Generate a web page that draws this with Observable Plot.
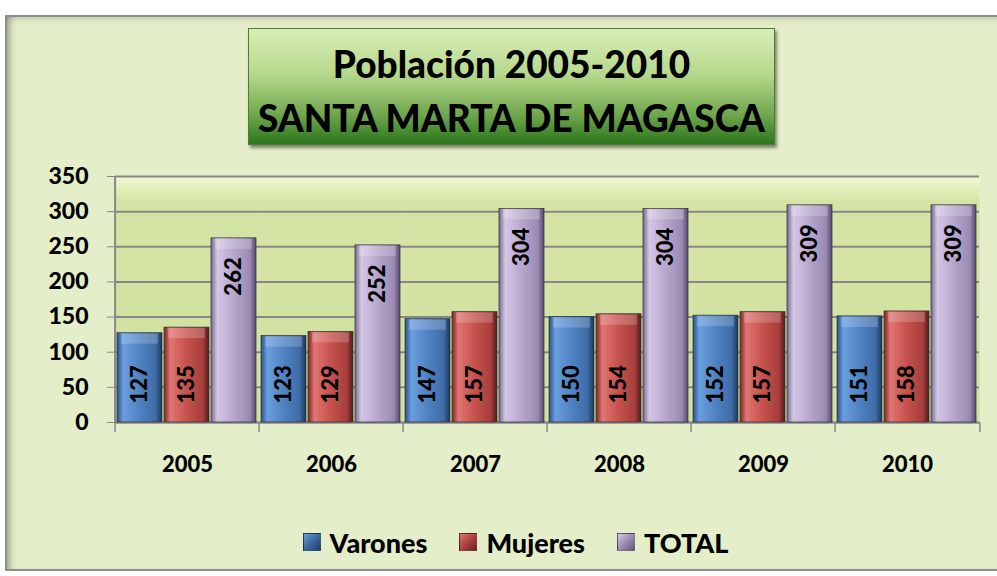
<!DOCTYPE html>
<html><head><meta charset="utf-8">
<script src="https://cdn.jsdelivr.net/npm/d3@7"></script>
<script src="https://cdn.jsdelivr.net/npm/@observablehq/plot@0.6"></script>
<style>
body{margin:0;background:#fff;font-family:Lato,"Open Sans",sans-serif;}
#wrap{position:relative;width:997px;height:576px;overflow:hidden;background:#fff;}
#panel{position:absolute;left:5px;top:15px;width:1000px;height:556px;background:#e4efc9;border:2px solid #8e8e8e;box-sizing:border-box;box-shadow:inset 7px 0 6px -4px rgba(0,0,0,0.3), inset 0 7px 6px -4px rgba(0,0,0,0.12);}
#chart{position:absolute;left:0;top:0;}
#title{position:absolute;left:248px;top:28px;width:527px;height:117px;background:linear-gradient(#d9eeb8,#b5d88b 40%,#6fa54c 75%,#2c761c);border:1px solid #4d7d36;box-shadow:2px 3px 3px rgba(0,0,0,0.45);box-sizing:border-box;text-align:center;font-weight:900;font-size:37px;color:#000;padding-top:8px;}
#title div{line-height:54px;}
#legend{position:absolute;top:527px;left:17px;width:997px;height:30px;display:flex;justify-content:center;align-items:center;font-weight:900;font-size:27px;color:#000;}
.item{display:flex;align-items:center;margin:0 16px;}
.sw{width:18px;height:18px;margin-right:9px;box-sizing:border-box;border:1px solid rgba(0,0,0,0.35);}
</style></head>
<body>
<div id="wrap">
  <div id="panel"></div>
  <div id="chart"></div>
  <div id="title"><div>Población 2005-2010</div><div>SANTA MARTA DE MAGASCA</div></div>
  <div id="legend"></div>
</div>
<script>
const years = ["2005","2006","2007","2008","2009","2010"];
const series = ["Varones","Mujeres","TOTAL"];
const varones = [127,123,147,150,152,151];
const mujeres = [135,129,157,154,157,158];
const total = [262,252,304,304,309,309];
const yTicks = [0,50,100,150,200,250,300,350];

const W = 997, H = 576, ML = 112, MR = 16, MT = 176, MB = 154;
const fxBand = (W - ML - MR) / years.length;
const valuesBySeries = {Varones: varones, Mujeres: mujeres, TOTAL: total};
const data = years.flatMap((yr, i) => series.map(s => ({year: yr, series: s, value: valuesBySeries[s][i]})));

const gradId = {Varones: "gV", Mujeres: "gM", TOTAL: "gT"};
const gradStops = {
  gV: ["#2a5185", "#6a9ede", "#4f83c2", "#3f6ca6", "#1c365a"],
  gM: ["#7e2725", "#e07571", "#c6524e", "#a53f3c", "#561b1a"],
  gT: ["#76688f", "#d4c8e6", "#b7a7cc", "#9b8bb3", "#564b6b"]
};
const legendBg = {
  Varones: "linear-gradient(135deg,#6a9ede,#3c68a0 50%,#21406a)",
  Mujeres: "linear-gradient(135deg,#e07571,#b0423f 50%,#6a2220)",
  TOTAL: "linear-gradient(135deg,#d4c8e6,#9d8db6 50%,#625676)"
};

const labelStyle = {fontSize: 22, fontWeight: 900, fill: "#000", rotate: -90};

const chart = Plot.plot({
  width: W, height: H,
  marginLeft: ML, marginRight: MR, marginTop: MT, marginBottom: MB,
  style: {background: "transparent", fontFamily: "Lato, 'Open Sans', sans-serif", color: "#000", overflow: "visible"},
  fx: {domain: years, padding: 0, label: null},
  x: {domain: series, paddingInner: 0.04, paddingOuter: 0.05, axis: null},
  y: {domain: [0, 350], label: null},
  marks: [
    Plot.frame({fill: "url(#gWall)", stroke: null}),
    Plot.gridY(yTicks, {stroke: "#878787", strokeOpacity: 1, strokeWidth: 2}),
    Plot.ruleY([0], {stroke: "#878787", strokeWidth: 2}),
    Plot.ruleX(years.slice(0, 1), {fx: d => d, x: null, dx: -fxBand / 2, stroke: "#878787", strokeWidth: 2}),
    Plot.axisY(yTicks, {tickSize: 8, tickPadding: 19, fontSize: 23, fontWeight: 900, stroke: "#878787", fill: "#000", label: null}),
    Plot.axisFx({anchor: "bottom", tickSize: 0, tickPadding: 34, fontSize: 22, fontWeight: 900, fill: "#000", label: null}),
    Plot.axisFx({anchor: "bottom", tickSize: 10, tickFormat: () => "", dx: -fxBand / 2, stroke: "#878787", strokeWidth: 1.5, label: null}),
    Plot.axisFx({anchor: "bottom", ticks: years.slice(-1), tickSize: 10, tickFormat: () => "", dx: fxBand / 2, stroke: "#878787", strokeWidth: 1.5, label: null}),
    ...series.map(s => Plot.barY(data.filter(d => d.series === s), {
      fx: "year", x: "series", y: "value",
      fill: `url(#${gradId[s]})`, stroke: "#2e2e2e", strokeWidth: 0.7
    })),
    // top bevel highlight of the 3D bars
    Plot.barY(data, {
      fx: "year", x: "series", y1: "value", y2: "value",
      insetBottom: -11, insetLeft: 4, insetRight: 4, insetTop: 1,
      fill: "#ffffff", fillOpacity: 0.2
    }),
    Plot.text(data.filter(d => d.series !== "TOTAL"), {
      fx: "year", x: "series", y: () => 0, text: d => String(d.value),
      textAnchor: "start", dy: -19, ...labelStyle
    }),
    Plot.text(data.filter(d => d.series === "TOTAL"), {
      fx: "year", x: "series", y: "value", text: d => String(d.value),
      textAnchor: "end", dy: 19, ...labelStyle
    })
  ]
});

// gradient definitions
const svg = d3.select(chart);
const defs = svg.insert("defs", ":first-child");
Object.entries(gradStops).forEach(([id, cols]) => {
  const g = defs.append("linearGradient").attr("id", id).attr("x1", 0).attr("x2", 1).attr("y1", 0).attr("y2", 0);
  [0, 0.14, 0.5, 0.86, 1].forEach((o, k) => g.append("stop").attr("offset", o).attr("stop-color", cols[k]));
});
const wall = defs.append("linearGradient").attr("id", "gWall").attr("x1", 0).attr("x2", 0).attr("y1", 0).attr("y2", 1);
[[0, "#f2f9d8"], [0.05, "#e2efbb"], [0.1, "#d4e4a5"], [1, "#cfe09e"]].forEach(([o, c]) => wall.append("stop").attr("offset", o).attr("stop-color", c));

document.getElementById("chart").appendChild(chart);

// legend
const leg = document.getElementById("legend");
series.forEach(s => {
  const it = document.createElement("div");
  it.className = "item";
  const sw = document.createElement("span");
  sw.className = "sw";
  sw.style.background = legendBg[s];
  const t = document.createElement("span");
  t.textContent = s;
  it.appendChild(sw); it.appendChild(t);
  leg.appendChild(it);
});
</script>
</body></html>
